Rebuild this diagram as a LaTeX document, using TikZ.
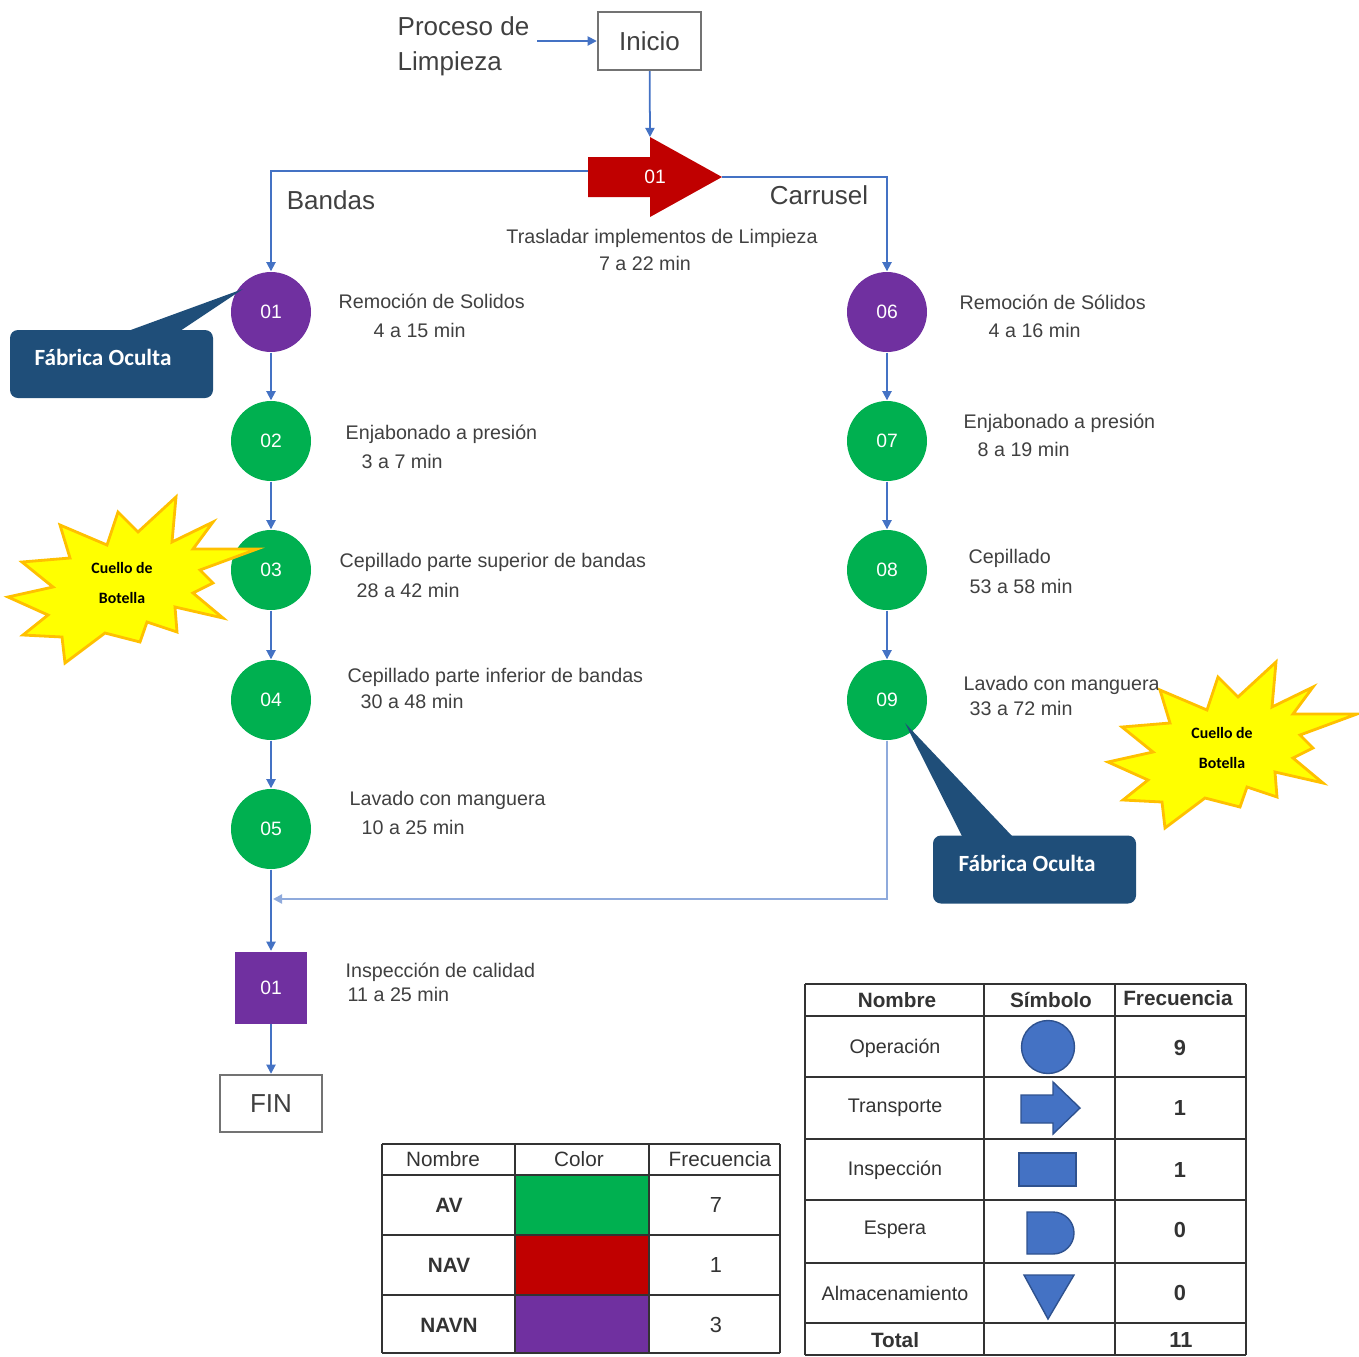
\documentclass[tikz,border=0pt]{standalone}
\usepackage{fontspec}
\setmainfont{Liberation Sans}
\newfontfamily\calibri{Carlito}
\usetikzlibrary{arrows.meta}
\definecolor{avgreen}{HTML}{00B050}
\definecolor{navred}{HTML}{C00000}
\definecolor{navnpurple}{HTML}{7030A0}
\definecolor{lineblue}{HTML}{4472C4}
\definecolor{symedge}{HTML}{2F528F}
\definecolor{foblue}{HTML}{1F4E79}
\definecolor{staryellow}{HTML}{FFFF00}
\definecolor{starorange}{HTML}{FFC000}
\tikzset{
  flow/.style={draw=lineblue, line width=0.5pt, -{Triangle[width=2.6pt,length=2.6pt]}},
  opnode/.style={circle, minimum size=0.8cm, inner sep=0pt, text=white, font=\fontsize{5.5}{6}\selectfont},
  desc/.style={anchor=west, inner sep=0pt, text=black!75, font=\fontsize{5.6}{6.6}\selectfont},
  bigtxt/.style={inner sep=0pt, text=black!75, font=\fontsize{7.4}{10}\selectfont},
  endbox/.style={bigtxt, draw=black!55, line width=0.7pt, minimum width=1.03cm, minimum height=0.58cm},
  fobox/.style={fill=foblue, rounded corners=0.08cm, minimum width=2.03cm, minimum height=0.68cm},
  fotext/.style={inner sep=0pt, text=white, font=\calibri\bfseries\fontsize{6.6}{7}\selectfont},
  startext/.style={inner sep=0pt, font=\calibri\bfseries\fontsize{4.5}{8.5}\selectfont, align=center},
  cell/.style={inner sep=0pt, text=black!80, font=\fontsize{5.6}{6}\selectfont},
  cellb/.style={cell, font=\bfseries\fontsize{5.9}{6}\selectfont},
  symbol/.style={fill=lineblue, draw=symedge, line width=0.4pt},
  grid/.style={draw=black!80, line width=0.6pt},
}
\begin{document}
\begin{tikzpicture}
\useasboundingbox (0,0) rectangle (13.59,-13.56);
% inicio y transporte
\node[bigtxt, anchor=west, align=left] (proc) at (3.97,-0.46) {Proceso de\\Limpieza};
\node[endbox] (inicio) at (6.495,-0.41) {Inicio};
\draw[flow, shorten <=2pt] (proc.east |- inicio) -- (inicio);
\fill[navred] (5.88,-1.57) -- (6.50,-1.57) -- (6.50,-1.37) -- (7.22,-1.77) -- (6.50,-2.17) -- (6.50,-1.97) -- (5.88,-1.97) -- cycle;
\node[opnode, minimum size=0pt] (t1) at (6.55,-1.77) {01};
\coordinate (t1top) at (6.50,-1.37);
\coordinate (t1tail) at (5.88,-1.71);
\coordinate (t1tip) at (7.22,-1.77);
\draw[flow] (inicio) -- (t1top);
\node[bigtxt] (bandas) at (3.31,-2.00) {Bandas};
\node[bigtxt] (carrusel) at (8.19,-1.95) {Carrusel};
\node[desc, anchor=center] (ta) at (6.62,-2.38) {Trasladar implementos de Limpieza};
\node[desc, anchor=center] (tb) at (6.45,-2.63) {7 a 22 min};
% operaciones
\foreach \i/\x/\y/\c in {1/2.71/3.12/navnpurple, 2/2.71/4.41/avgreen, 3/2.71/5.70/avgreen,
    4/2.71/7.00/avgreen, 5/2.71/8.29/avgreen, 6/8.87/3.12/navnpurple, 7/8.87/4.41/avgreen,
    8/8.87/5.70/avgreen, 9/8.87/7.00/avgreen}
  \node[opnode, fill=\c] (o\i) at (\x,-\y) {0\i};
\foreach \a/\b in {1/2,2/3,3/4,4/5,6/7,7/8,8/9} \draw[flow] (o\a) -- (o\b);
\draw[flow] (t1tail) -| (o1);
\draw[flow] (t1tip) -| (o6);
\foreach \n/\x/\y/\t in {1a/3.38/3.01/Remoción de Solidos, 1b/3.73/3.30/4 a 15 min,
    2a/3.45/4.34/Enjabonado a presión, 2b/3.61/4.61/3 a 7 min,
    3a/3.39/5.62/Cepillado parte superior de bandas, 3b/3.56/5.90/28 a 42 min,
    4a/3.47/6.77/Cepillado parte inferior de bandas, 4b/3.60/7.01/30 a 48 min,
    5a/3.49/8.00/Lavado con manguera, 5b/3.61/8.27/10 a 25 min,
    6a/9.59/3.02/Remoción de Sólidos, 6b/9.88/3.30/4 a 16 min,
    7a/9.63/4.23/Enjabonado a presión, 7b/9.77/4.49/8 a 19 min,
    8a/9.68/5.58/Cepillado, 8b/9.69/5.86/53 a 58 min,
    9a/9.63/6.85/Lavado con manguera, 9b/9.69/7.08/33 a 72 min,
    ia/3.45/9.72/Inspección de calidad, ib/3.47/9.94/11 a 25 min}
  \node[desc] (d\n) at (\x,-\y) {\t};
% inspeccion y fin
\node[fill=navnpurple, minimum size=0.72cm, inner sep=0pt, text=white, font=\fontsize{5.5}{6}\selectfont] (i1) at (2.71,-9.875) {01};
\coordinate (join) at (2.73,-8.99);
\draw[flow] (o5) -- (i1);
\draw[flow, draw=lineblue!60, line width=0.8pt] (o9) |- (join);
\node[endbox, minimum width=1.02cm, minimum height=0.57cm] (fin) at (2.71,-11.035) {FIN};
\draw[flow] (i1) -- (fin);
% fabrica oculta
\fill[foblue] (1.28,-3.31) -- (2.43,-2.89) -- (1.80,-3.31) -- cycle;
\node[fobox] (fo1) at (1.115,-3.64) {};
\node[fotext] (fo1t) at (1.03,-3.57) {Fábrica Oculta};
\fill[foblue] (9.62,-8.36) -- (9.05,-7.23) -- (10.12,-8.36) -- cycle;
\node[fobox] (fo2) at (10.345,-8.695) {};
\node[fotext] (fo2t) at (10.27,-8.63) {Fábrica Oculta};
% cuello de botella
\foreach \k/\sx/\sy in {1/0/0, 2/11.00/-1.65} {
  \begin{scope}[shift={(\sx,\sy)}]
    \filldraw[fill=staryellow, draw=starorange, line width=0.8pt, line join=miter]
      (1.76,-4.97) -- (1.72,-5.42) -- (2.13,-5.22) -- (1.93,-5.49) -- (2.57,-5.49) -- (2.00,-5.70)
      -- (2.13,-5.83) -- (1.93,-5.93) -- (2.23,-6.18) -- (1.75,-6.07) -- (1.77,-6.32) -- (1.47,-6.22)
      -- (1.40,-6.42) -- (1.05,-6.33) -- (0.65,-6.63) -- (0.62,-6.37) -- (0.23,-6.35) -- (0.48,-6.15)
      -- (0.08,-5.97) -- (0.53,-5.87) -- (0.22,-5.62) -- (0.70,-5.58) -- (0.60,-5.25) -- (1.07,-5.45)
      -- (1.18,-5.12) -- (1.38,-5.32) -- cycle;
    \node[startext] (cb\k) at (1.22,-5.83) {Cuello de\\Botella};
  \end{scope}
}
% tabla de colores
\fill[avgreen] (5.15,-11.75) rectangle (6.49,-12.35);
\fill[navred] (5.15,-12.35) rectangle (6.49,-12.95);
\fill[navnpurple] (5.15,-12.95) rectangle (6.49,-13.53);
\foreach \y in {11.44,11.75,12.35,12.95,13.53} \draw[grid] (3.82,-\y) -- (7.80,-\y);
\foreach \x in {3.82,5.15,6.49,7.80} \draw[grid] (\x,-11.44) -- (\x,-13.53);
\node[cell, font=\fontsize{5.9}{6}\selectfont] (c1) at (4.43,-11.59) {Nombre};
\node[cell, font=\fontsize{5.9}{6}\selectfont] (c2) at (5.79,-11.59) {Color};
\node[cell, font=\fontsize{5.9}{6}\selectfont] (c3) at (7.20,-11.59) {Frecuencia};
\foreach \n/\y/\t/\f in {av/12.05/AV/7, nav/12.65/NAV/1, navn/13.25/NAVN/3} {
  \node[cellb] (c\n) at (4.49,-\y) {\t};
  \node[cell, font=\fontsize{6.2}{6}\selectfont] (f\n) at (7.16,-\y) {\f};
}
% tabla de simbolos
\foreach \y in {9.84,10.16,10.77,11.39,12.00,12.63,13.23,13.55} \draw[grid] (8.05,-\y) -- (12.46,-\y);
\foreach \x in {8.05,9.84,11.15,12.46} \draw[grid] (\x,-9.84) -- (\x,-13.55);
\node[cellb] (s1) at (8.97,-10.00) {Nombre};
\node[cellb] (s2) at (10.51,-10.00) {Símbolo};
\node[cellb] (s3) at (11.78,-9.98) {Frecuencia};
\foreach \n/\y/\t/\f in {op/10.48/Operación/9, tr/11.08/Transporte/1, in/11.70/Inspección/1,
    es/12.30/Espera/0, al/12.93/Almacenamiento/0}
{
  \node[cell] (s\n) at (8.95,-\y) {\t};
  \node[cellb, font=\bfseries\fontsize{6.2}{6}\selectfont] (g\n) at (11.80,-\y) {\f};
}
\node[cellb] (stot) at (8.95,-13.40) {Total};
\node[cellb, font=\bfseries\fontsize{6.2}{6}\selectfont] (gtot) at (11.81,-13.40) {11};
\filldraw[symbol] (10.48,-10.47) circle (0.265);
\filldraw[symbol] (10.21,-10.95) -- (10.53,-10.95) -- (10.53,-10.82) -- (10.80,-11.08) -- (10.53,-11.34)
  -- (10.53,-11.23) -- (10.21,-11.23) -- cycle;
\filldraw[symbol] (10.19,-11.53) rectangle (10.76,-11.86);
\filldraw[symbol] (10.27,-12.12) -- (10.53,-12.12) arc (90:-90:0.21) -- (10.27,-12.54) -- cycle;
\filldraw[symbol] (10.24,-12.75) -- (10.74,-12.75) -- (10.48,-13.19) -- cycle;
\end{tikzpicture}
\end{document}
